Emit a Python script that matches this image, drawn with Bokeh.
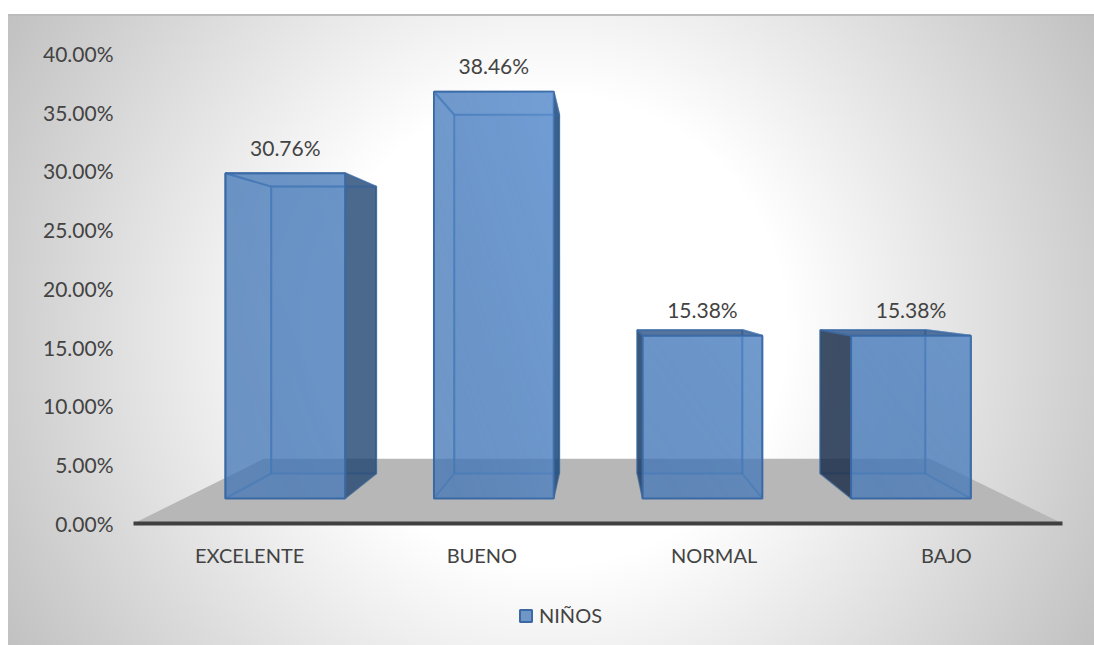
import numpy as np
from bokeh.embed import file_html
from bokeh.resources import INLINE
from bokeh.plotting import figure
from bokeh.models import BoxAnnotation, FixedTicker, Legend, LegendItem, ColumnDataSource
from bokeh.core.properties import value

categories = ["EXCELENTE", "BUENO", "NORMAL", "BAJO"]
percentages = [30.76, 38.46, 15.38, 15.38]
value_ticks = [0, 5, 10, 15, 20, 25, 30, 35, 40]
series_name = "NIÑOS"

FONT = "Lato"
INK = "#434343"

# One-point perspective: (front plane, back plane) shrink factors around the vanishing point
VANISH_X, VANISH_Y, VANISH_VALUE = 1.505, 20.13, 20.0
SCALE_X = (0.898, 0.788)
SCALE_Y = (0.900, 0.794)
HALF_WIDTH = 0.287


def px(i, side, plane):
    return VANISH_X + SCALE_X[plane] * (i + side * HALF_WIDTH - VANISH_X)


def py(v, plane):
    return VANISH_Y + SCALE_Y[plane] * (v - VANISH_VALUE)


def rect_face(i, v, plane):
    return ([px(i, -1, plane), px(i, 1, plane), px(i, 1, plane), px(i, -1, plane)],
            [py(0, plane), py(0, plane), py(v, plane), py(v, plane)])


def side_face(i, v, side):
    return ([px(i, side, 0), px(i, side, 1), px(i, side, 1), px(i, side, 0)],
            [py(0, 0), py(0, 1), py(v, 1), py(v, 0)])


def cap_face(i, v):
    return ([px(i, -1, 0), px(i, 1, 0), px(i, 1, 1), px(i, -1, 1)],
            [py(v, 0), py(v, 0), py(v, 1), py(v, 1)])


def faces(items):
    return {"xs": [f[0] for f in items], "ys": [f[1] for f in items]}


backdrop = ("linear-gradient(#bcbcbc,#bcbcbc) 8px 14px / 1086px 2px no-repeat,"
            "radial-gradient(circle 628px at 543px 315px, #ffffff 0px, #ffffff 235px, #c1c1c1 628px)"
            " 8px 15px / 1086px 630px no-repeat, #ffffff")

# The frame runs to the foot of the page so the legend can sit inside it, under the zero line
p = figure(width=1094, height=645, x_range=(-0.5, 3.5), y_range=(-10.383, 40),
           output_backend="svg", toolbar_location=None,
           min_border_left=133, min_border_right=32, min_border_top=53, min_border_bottom=0,
           background_fill_color=None, border_fill_color=None, outline_line_color=None,
           styles={"background": backdrop})
p.grid.visible = False

# Floor plane of the 3D box
p.patch([-0.5, 3.5, 2.93, 0.06], [0, 0, 5.5, 5.5], fill_color="#b7b7b7", line_color=None)

n = range(len(categories))
EDGE = "#4a7db9"

# Faces inside the box, seen through the front
p.patches(source=ColumnDataSource(faces([rect_face(i, percentages[i], 1) for i in n])), xs="xs", ys="ys",
          fill_color="#4277ba", fill_alpha=0.15, line_color=EDGE, line_alpha=0.6, line_width=2)

# Sides facing away from the centre are outside the front face and read as dark
outer = [1, 1, -1, -1]
inner = [-s for s in outer]
p.patches(source=ColumnDataSource(faces([side_face(i, percentages[i], inner[i]) for i in n])), xs="xs", ys="ys",
          fill_color="#4277ba", fill_alpha=0.04, line_color=EDGE, line_alpha=0.6, line_width=2)
side_src = ColumnDataSource(dict(faces([side_face(i, percentages[i], outer[i]) for i in n]),
                                 fill=["#1f4470", "#1f4a78", "#1f3d66", "#1a2c48"],
                                 alpha=[0.78, 0.85, 0.85, 0.82]))
p.patches(source=side_src, xs="xs", ys="ys", fill_color="fill", fill_alpha="alpha",
          line_color="#34608f", line_alpha=0.7, line_width=1.5)

# Top caps: the shorter bars show theirs from above
cap_src = ColumnDataSource(dict(faces([cap_face(i, percentages[i]) for i in n]),
                                alpha=[0.05, 0.05, 0.8, 0.8]))
p.patches(source=cap_src, xs="xs", ys="ys", fill_color="#2f5688", fill_alpha="alpha",
          line_color="#3f6ea8", line_alpha=0.6, line_width=2)

front = p.patches(source=ColumnDataSource(faces([rect_face(i, percentages[i], 0) for i in n])), xs="xs", ys="ys",
                  fill_color="#4175b5", fill_alpha=0.75, line_color="#3a69a4", line_width=2)

# Soft blue sheen across each front face, brightest towards its upper right corner
SHEEN = [0.06, 0.36, 0.16, 0.16]
STEPS = 48
ramp = ((np.arange(STEPS)[None, :] + np.arange(STEPS)[:, None]) / (2 * (STEPS - 1))) ** 1.5
for i in n:
    rgba = np.zeros((STEPS, STEPS), dtype=np.uint32)
    view = rgba.view(np.uint8).reshape((STEPS, STEPS, 4))
    view[..., 0], view[..., 1], view[..., 2] = 125, 175, 240
    view[..., 3] = (ramp * SHEEN[i] * 255).astype(np.uint8)
    left, right = px(i, -1, 0), px(i, 1, 0)
    p.image_rgba(image=[rgba], x=left, y=py(0, 0), dw=right - left, dh=py(percentages[i], 0) - py(0, 0))

# Value labels above each bar's front face
p.text(x=[px(i, 0, 0) for i in n], y=[py(percentages[i], 0) for i in n],
       text=[f"{v:.2f}%" for v in percentages], text_font=value(FONT), text_font_size="21px",
       text_color=INK, text_align="center", text_baseline="middle", y_offset=-26)

p.yaxis.ticker = FixedTicker(ticks=value_ticks)
p.yaxis.major_label_overrides = {t: f"{t:.2f}%" for t in value_ticks}
p.yaxis.axis_line_color = None
p.yaxis.major_tick_line_color = None
p.yaxis.minor_tick_line_color = None
p.yaxis.major_label_standoff = 14
p.yaxis.major_label_text_font = FONT
p.yaxis.major_label_text_font_size = "21px"
p.yaxis.major_label_text_color = INK

p.xaxis.fixed_location = 0
p.xaxis.ticker = FixedTicker(ticks=list(n))
p.xaxis.major_label_overrides = {i: c for i, c in zip(n, categories)}
p.xaxis.axis_line_color = "#404040"
p.xaxis.axis_line_width = 4
p.xaxis.axis_line_cap = "round"
p.xaxis.major_tick_line_color = None
p.xaxis.minor_tick_line_color = None
p.xaxis.major_label_standoff = 14
p.xaxis.major_label_text_font = FONT
p.xaxis.major_label_text_font_size = "20px"
p.xaxis.major_label_text_color = INK

# Pale plate behind the legend
p.add_layout(BoxAnnotation(left=503, right=610, top=593, bottom=637,
                           left_units="screen", right_units="screen", top_units="screen", bottom_units="screen",
                           fill_color="#f6f6f6", fill_alpha=0.85, line_color=None))

legend = Legend(items=[LegendItem(label=value(series_name), renderers=[front])],
                location=(385, 18), orientation="horizontal", margin=0, padding=0, spacing=0,
                glyph_width=15, glyph_height=15, label_standoff=6,
                label_text_font=FONT, label_text_font_size="20px", label_text_color=INK,
                background_fill_color=None, border_line_color=None)
p.add_layout(legend, "center")

open("out.html", "w").write(file_html(p, INLINE))
